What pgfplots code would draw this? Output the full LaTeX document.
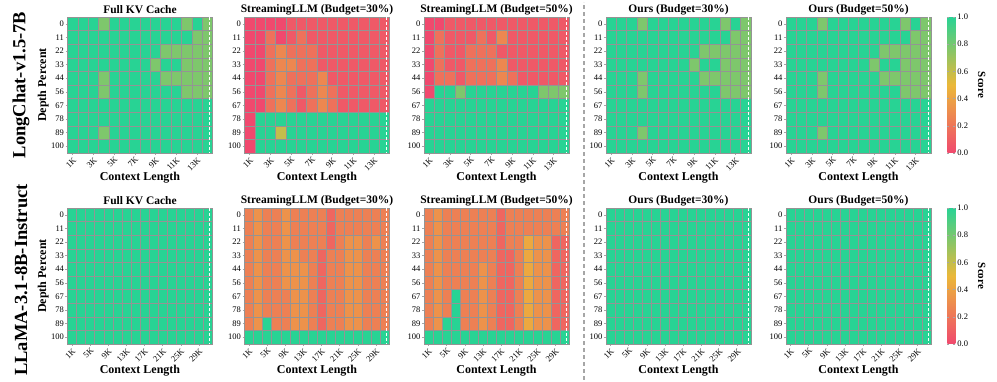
\documentclass[border=0pt]{standalone}
\usepackage{fontspec}
\setmainfont{Liberation Serif}
\usepackage{pgfplots}
\usepackage{pgfplotstable}
\pgfplotsset{compat=1.18}

\pgfplotsset{colormap={niah}{rgb255=(240,73,110) rgb255=(235,184,57) rgb255=(40,211,148)}}

% one value per cell, rows = depth 0..100, 14 (top) or 16 (bottom) context lengths per line
\pgfplotstableread[row sep=\\]{v\\
1\\1\\1\\0.78\\1\\1\\1\\1\\1\\1\\1\\0.78\\1\\0.78\\
1\\1\\1\\1\\1\\1\\1\\1\\1\\1\\1\\1\\0.78\\0.78\\
1\\1\\1\\1\\1\\1\\1\\1\\1\\0.78\\0.78\\0.78\\0.78\\0.78\\
1\\1\\1\\1\\1\\1\\1\\1\\0.78\\1\\1\\0.78\\0.78\\0.78\\
1\\1\\1\\0.78\\1\\1\\1\\1\\1\\0.78\\0.78\\0.78\\0.78\\0.78\\
1\\1\\1\\0.78\\1\\1\\1\\1\\1\\1\\1\\0.78\\0.78\\0.78\\
1\\1\\1\\1\\1\\1\\1\\1\\1\\1\\1\\1\\1\\1\\
1\\1\\1\\1\\1\\1\\1\\1\\1\\1\\1\\1\\1\\1\\
1\\1\\1\\0.78\\1\\1\\1\\1\\1\\1\\1\\1\\1\\1\\
1\\1\\1\\1\\1\\1\\1\\1\\1\\1\\1\\1\\1\\1\\
}\lcfull

\pgfplotstableread[row sep=\\]{v\\
0\\0\\0\\0\\0.07\\0.07\\0.07\\0.07\\0.07\\0.07\\0.07\\0.07\\0.07\\0.07\\
0\\0\\0.18\\0\\0.07\\0.18\\0.07\\0.07\\0.07\\0.07\\0.07\\0.07\\0.07\\0.07\\
0\\0\\0.18\\0.28\\0.18\\0.18\\0.18\\0.07\\0.07\\0.07\\0.07\\0.07\\0.07\\0.07\\
0\\0\\0.18\\0.28\\0.28\\0.18\\0.18\\0.07\\0.07\\0.07\\0.07\\0.07\\0.07\\0.07\\
0\\0\\0.18\\0.28\\0.18\\0.18\\0.18\\0.28\\0.07\\0.07\\0.07\\0.07\\0.07\\0.07\\
0\\0\\0.18\\0.28\\0.18\\0.07\\0.18\\0.28\\0.18\\0.07\\0.07\\0.07\\0.07\\0.07\\
0\\0\\0.18\\0.28\\0.18\\0.07\\0.18\\0.28\\0.18\\0.07\\0.07\\0.07\\0.07\\0.07\\
0\\1\\1\\1\\1\\1\\1\\1\\1\\1\\1\\1\\1\\1\\
0\\1\\1\\0.6\\1\\1\\1\\1\\1\\1\\1\\1\\1\\1\\
0\\1\\1\\1\\1\\1\\1\\1\\1\\1\\1\\1\\1\\1\\
}\lcstreamA

\pgfplotstableread[row sep=\\]{v\\
0\\0\\0.07\\0.07\\0.07\\0.07\\0.07\\0.07\\0.07\\0.07\\0.07\\0.07\\0.07\\0.07\\
0\\0.18\\0.07\\0.07\\0.07\\0.18\\0.07\\0.28\\0.07\\0.07\\0.07\\0.07\\0.07\\0.07\\
0\\0.18\\0.07\\0.07\\0.18\\0.18\\0.18\\0.07\\0.07\\0.07\\0.07\\0.07\\0.07\\0.07\\
0\\0.18\\0.07\\0.07\\0.18\\0.18\\0.18\\0.28\\0.07\\0.07\\0.07\\0.07\\0.07\\0.07\\
0\\0.18\\0.18\\0.07\\0.18\\0.18\\0.18\\0.28\\0.18\\0.07\\0.07\\0.07\\0.07\\0.07\\
0\\1\\1\\0.78\\1\\1\\1\\1\\1\\1\\1\\0.78\\0.78\\0.78\\
1\\1\\1\\1\\1\\1\\1\\1\\1\\1\\1\\1\\1\\1\\
1\\1\\1\\1\\1\\1\\1\\1\\1\\1\\1\\1\\1\\1\\
1\\1\\1\\1\\1\\1\\1\\1\\1\\1\\1\\1\\1\\1\\
1\\1\\1\\1\\1\\1\\1\\1\\1\\1\\1\\1\\1\\1\\
}\lcstreamB

\pgfplotstableread[row sep=\\]{v\\
1\\1\\1\\1\\1\\1\\1\\1\\1\\1\\1\\1\\1\\1\\1\\1\\
1\\1\\1\\1\\1\\1\\1\\1\\1\\1\\1\\1\\1\\1\\1\\1\\
1\\1\\1\\1\\1\\1\\1\\1\\1\\1\\1\\1\\1\\1\\1\\1\\
1\\1\\1\\1\\1\\1\\1\\1\\1\\1\\1\\1\\1\\1\\1\\1\\
1\\1\\1\\1\\1\\1\\1\\1\\1\\1\\1\\1\\1\\1\\1\\1\\
1\\1\\1\\1\\1\\1\\1\\1\\1\\1\\1\\1\\1\\1\\1\\1\\
1\\1\\1\\1\\1\\1\\1\\1\\1\\1\\1\\1\\1\\1\\1\\1\\
1\\1\\1\\1\\1\\1\\1\\1\\1\\1\\1\\1\\1\\1\\1\\1\\
1\\1\\1\\1\\1\\1\\1\\1\\1\\1\\1\\1\\1\\1\\1\\1\\
1\\1\\1\\1\\1\\1\\1\\1\\1\\1\\1\\1\\1\\1\\1\\1\\
}\llfull

\pgfplotstableread[row sep=\\]{v\\
0.25\\0.33\\0.25\\0.25\\0.33\\0.25\\0.25\\0.25\\0.25\\0.13\\0.25\\0.25\\0.25\\0.25\\0.25\\0.25\\
0.25\\0.33\\0.25\\0.25\\0.33\\0.25\\0.25\\0.25\\0.25\\0.13\\0.25\\0.25\\0.25\\0.25\\0.25\\0.25\\
0.25\\0.33\\0.25\\0.25\\0.33\\0.25\\0.25\\0.25\\0.25\\0.13\\0.25\\0.33\\0.33\\0.25\\0.33\\0.25\\
0.25\\0.33\\0.25\\0.25\\0.33\\0.33\\0.25\\0.25\\0.13\\0.25\\0.25\\0.33\\0.33\\0.25\\0.25\\0.25\\
0.25\\0.33\\0.25\\0.25\\0.33\\0.33\\0.33\\0.25\\0.13\\0.25\\0.25\\0.33\\0.33\\0.25\\0.25\\0.25\\
0.25\\0.33\\0.25\\0.25\\0.33\\0.33\\0.33\\0.25\\0.13\\0.25\\0.25\\0.33\\0.33\\0.25\\0.25\\0.25\\
0.25\\0.33\\0.25\\0.25\\0.25\\0.33\\0.33\\0.25\\0.13\\0.25\\0.25\\0.33\\0.33\\0.25\\0.25\\0.25\\
0.25\\0.33\\0.25\\0.25\\0.25\\0.33\\0.33\\0.25\\0.13\\0.25\\0.25\\0.33\\0.33\\0.25\\0.25\\0.25\\
0.25\\0.33\\1\\0.25\\0.25\\0.33\\0.33\\0.25\\0.13\\0.25\\0.25\\0.33\\0.33\\0.25\\0.25\\0.25\\
1\\1\\1\\1\\1\\1\\1\\1\\1\\1\\1\\1\\1\\1\\1\\1\\
}\llstreamA

\pgfplotstableread[row sep=\\]{v\\
0.25\\0.33\\0.25\\0.25\\0.25\\0.25\\0.25\\0.25\\0.13\\0.25\\0.25\\0.25\\0.25\\0.25\\0.25\\0.25\\
0.25\\0.33\\0.25\\0.25\\0.25\\0.25\\0.25\\0.25\\0.13\\0.25\\0.25\\0.25\\0.25\\0.25\\0.25\\0.25\\
0.25\\0.33\\0.25\\0.25\\0.25\\0.25\\0.25\\0.25\\0.13\\0.25\\0.25\\0.43\\0.33\\0.33\\0.13\\0.13\\
0.25\\0.33\\0.25\\0.25\\0.25\\0.25\\0.25\\0.25\\0.13\\0.13\\0.25\\0.43\\0.33\\0.33\\0.13\\0.13\\
0.25\\0.33\\0.25\\0.25\\0.25\\0.25\\0.33\\0.25\\0.13\\0.13\\0.25\\0.43\\0.33\\0.33\\0.13\\0.13\\
0.25\\0.33\\0.25\\0.25\\0.25\\0.25\\0.33\\0.25\\0.13\\0.13\\0.25\\0.43\\0.33\\0.33\\0.13\\0.13\\
0.25\\0.33\\0.25\\1\\0.25\\0.25\\0.33\\0.25\\0.13\\0.13\\0.25\\0.43\\0.33\\0.33\\0.13\\0.13\\
0.25\\0.33\\0.25\\1\\0.25\\0.25\\0.33\\0.25\\0.13\\0.13\\0.25\\0.43\\0.33\\0.33\\0.13\\0.13\\
0.25\\0.33\\1\\1\\0.25\\0.25\\0.33\\0.25\\0.13\\0.13\\0.25\\0.43\\0.33\\0.33\\0.13\\0.13\\
1\\1\\1\\1\\1\\1\\1\\1\\1\\1\\1\\1\\1\\1\\1\\1\\
}\llstreamB

% cell position from the row number: column = context length, row = depth
% (+0.5 keeps floor() away from rounding errors at exact multiples)
\newcommand{\addxy}[2]{%
  \pgfplotstablecreatecol[expr={floor((\pgfplotstablerow+0.5)/#1)}]{cy}{#2}%
  \pgfplotstablecreatecol[expr={\pgfplotstablerow-#1*floor((\pgfplotstablerow+0.5)/#1)}]{cx}{#2}}
\addxy{14}{\lcfull}
\addxy{14}{\lcstreamA}
\addxy{14}{\lcstreamB}
\addxy{16}{\llfull}
\addxy{16}{\llstreamA}
\addxy{16}{\llstreamB}

% one cell: 145pt/14 or 145pt/16 wide, 136pt/10 high, filled and outlined in grey
\pgfdeclareplotmark{cellT}{\pgfpathrectangle{\pgfpoint{-5.1786pt}{-6.8pt}}{\pgfpoint{10.357pt}{13.6pt}}\pgfusepath{fill,stroke}}
\pgfdeclareplotmark{cellB}{\pgfpathrectangle{\pgfpoint{-4.5313pt}{-6.8pt}}{\pgfpoint{9.0625pt}{13.6pt}}\pgfusepath{fill,stroke}}

\pgfplotsset{
  hm/.style={
    axis on top,
    scale only axis, width=145pt, height=136pt,
    y dir=reverse, enlargelimits=false,
    ymin=-0.5, ymax=9.5,
    axis line style={draw=none},
    tick align=outside, tick pos=left,
    major tick length=2pt,
    major tick style={gray!70, line width=0.4pt},
    ytick={0,...,9}, yticklabels={0,11,22,33,44,56,67,78,89,100},
    colormap name=niah, point meta min=0, point meta max=1,
    tick label style={font=\fontsize{8.5}{10}\selectfont},
    yticklabel style={inner sep=1.5pt},
    xticklabel style={rotate=45, anchor=north east, inner sep=1pt},
    every axis title/.style={at={(axis description cs:0.5,1.055)}, anchor=center,
      font=\fontsize{11.5}{13}\selectfont\bfseries},
    every axis x label/.style={at={(axis description cs:0.5,-0.18)}, anchor=center,
      inner sep=0pt, font=\fontsize{12}{14}\selectfont\bfseries},
    every axis y label/.style={at={(axis description cs:-0.168,0.5)}, anchor=center, rotate=90,
      inner sep=0pt, font=\fontsize{12}{14}\selectfont\bfseries},
    xlabel={Context Length},
  },
  toprow/.style={hm, xmin=-0.5, xmax=13.5,
    xtick={0,2,...,12}, xticklabels={1K,3K,5K,7K,9K,11K,13K}},
  botrow/.style={hm, xmin=-0.5, xmax=15.5,
    xtick={0,2,...,14}, xticklabels={1K,5K,9K,13K,17K,21K,25K,29K},
    every axis x label/.append style={at={(axis description cs:0.5,-0.195)}}},
  scorebar/.style={colorbar, colorbar style={
    at={(parent axis.right of north east)}, anchor=north west, xshift=7.5pt, width=8pt,
    ytick={0,0.2,0.4,0.6,0.8,1}, yticklabels={0.0,0.2,0.4,0.6,0.8,1.0},
    yticklabel style={font=\fontsize{8.5}{10}\selectfont, inner sep=2pt},
    major tick length=2pt, tick style={gray!70},
    axis line style={draw=none},
    ylabel={Score},
    every axis y label/.style={at={(axis description cs:4.3,0.5)}, anchor=center, rotate=-90,
      font=\fontsize{11}{13}\selectfont\bfseries}}},
}

% #1 mark, #2 table, #3 x of the dashed limit line, #4 name for its end points
\newcommand{\heat}[4]{%
  \addplot[scatter, only marks, mark=#1, line width=0.5pt, point meta=explicit,
    scatter/use mapped color={fill=mapped color, draw=black!42}]
    table[x=cx, y=cy, meta=v] {#2};
  \coordinate (#4t) at (axis cs:#3,-0.5);
  \coordinate (#4b) at (axis cs:#3,9.5);}
\tikzset{cut/.style={white, line width=1.2pt, dash pattern=on 3pt off 2pt}}

\begin{document}
\begin{tikzpicture}
\useasboundingbox (0,0) rectangle (997pt,382pt);

% row labels and separator
\node[rotate=90, font=\fontsize{18.5}{20}\selectfont\bfseries] at (21pt,297pt) {LongChat-v1.5-7B};
\node[rotate=90, font=\fontsize{18.5}{20}\selectfont\bfseries] at (21pt,102pt) {LLaMA-3.1-8B-Instruct};
\draw[gray!70, line width=1.3pt, dash pattern=on 4pt off 3pt] (584pt,2pt) -- (584pt,380pt);

% ---- LongChat-v1.5-7B ----
\begin{axis}[toprow, at={(67.5pt,229pt)}, anchor=south west,
  title={Full KV Cache}, ylabel={Depth Percent}]
\heat{cellT}{\lcfull}{13.23}{a1}
\end{axis}
\begin{axis}[toprow, at={(244.5pt,229pt)}, anchor=south west,
  title={StreamingLLM (Budget=30\%)}]
\heat{cellT}{\lcstreamA}{13.23}{a2}
\end{axis}
\begin{axis}[toprow, at={(424pt,229pt)}, anchor=south west,
  title={StreamingLLM (Budget=50\%)}]
\heat{cellT}{\lcstreamB}{13.23}{a3}
\end{axis}
\begin{axis}[toprow, at={(606pt,229pt)}, anchor=south west,
  title={Ours (Budget=30\%)}]
\heat{cellT}{\lcfull}{13.23}{a4}
\end{axis}
\begin{axis}[toprow, scorebar, at={(786pt,229pt)}, anchor=south west,
  title={Ours (Budget=50\%)}]
\heat{cellT}{\lcfull}{13.23}{a5}
\end{axis}

% ---- LLaMA-3.1-8B-Instruct ----
\begin{axis}[botrow, at={(67.5pt,38pt)}, anchor=south west,
  title={Full KV Cache}, ylabel={Depth Percent}]
\heat{cellB}{\llfull}{15.2}{b1}
\end{axis}
\begin{axis}[botrow, at={(244.5pt,38pt)}, anchor=south west,
  title={StreamingLLM (Budget=30\%)}]
\heat{cellB}{\llstreamA}{15.2}{b2}
\end{axis}
\begin{axis}[botrow, at={(424pt,38pt)}, anchor=south west,
  title={StreamingLLM (Budget=50\%)}]
\heat{cellB}{\llstreamB}{15.2}{b3}
\end{axis}
\begin{axis}[botrow, at={(606pt,38pt)}, anchor=south west,
  title={Ours (Budget=30\%)}]
\heat{cellB}{\llfull}{15.2}{b4}
\end{axis}
\begin{axis}[botrow, scorebar, at={(786pt,38pt)}, anchor=south west,
  title={Ours (Budget=50\%)}]
\heat{cellB}{\llfull}{15.2}{b5}
\end{axis}

% dashed limit lines, drawn over the cells
\foreach \p in {a1,a2,a3,a4,a5,b1,b2,b3,b4,b5} {\draw[cut] (\p t) -- (\p b);}
\end{tikzpicture}
\end{document}
